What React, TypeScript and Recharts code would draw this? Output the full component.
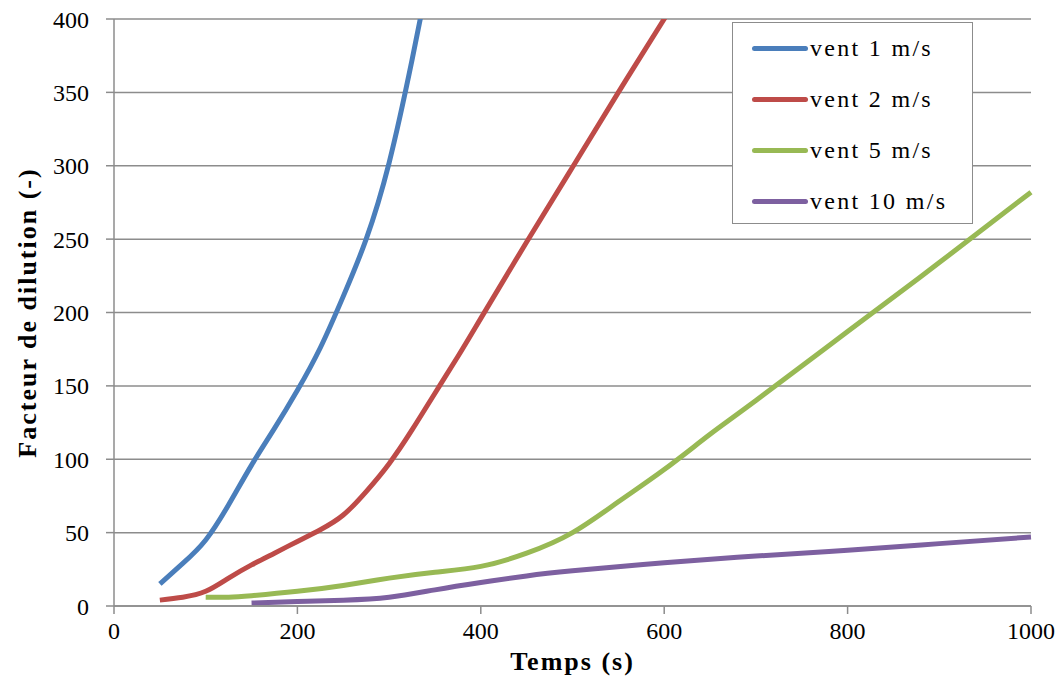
import { CartesianGrid, Line, LineChart, XAxis, YAxis } from 'recharts'

const vent1 = [
  { t: 50, v: 15 }, { t: 75, v: 29 }, { t: 100, v: 45 }, { t: 125, v: 69 },
  { t: 150, v: 96 }, { t: 175, v: 121 }, { t: 200, v: 147 }, { t: 225, v: 176 },
  { t: 250, v: 211 }, { t: 275, v: 250 }, { t: 300, v: 302 }, { t: 325, v: 372 },
  { t: 350, v: 450 },
]
const vent2 = [
  { t: 50, v: 4 }, { t: 75, v: 6 }, { t: 100, v: 10 }, { t: 125, v: 19 },
  { t: 150, v: 28 }, { t: 175, v: 36 }, { t: 200, v: 44 }, { t: 225, v: 52 },
  { t: 250, v: 62 }, { t: 275, v: 78 }, { t: 300, v: 97 }, { t: 325, v: 120 },
  { t: 350, v: 145 }, { t: 375, v: 170 }, { t: 400, v: 196 }, { t: 450, v: 248 },
  { t: 500, v: 299 }, { t: 550, v: 350 }, { t: 600, v: 400 }, { t: 625, v: 425 },
]
const vent5 = [
  { t: 100, v: 6 }, { t: 125, v: 6 }, { t: 150, v: 7 }, { t: 200, v: 10 },
  { t: 250, v: 14 }, { t: 300, v: 19 }, { t: 350, v: 23 }, { t: 400, v: 27 },
  { t: 450, v: 36 }, { t: 500, v: 50 }, { t: 550, v: 71 }, { t: 600, v: 93 },
  { t: 650, v: 117 }, { t: 700, v: 140 }, { t: 800, v: 187 }, { t: 900, v: 234 },
  { t: 1000, v: 282 },
]
const vent10 = [
  { t: 150, v: 2 }, { t: 200, v: 3 }, { t: 250, v: 4 }, { t: 300, v: 6 },
  { t: 350, v: 11 }, { t: 400, v: 16 }, { t: 450, v: 20.5 }, { t: 500, v: 24 },
  { t: 600, v: 29.5 }, { t: 700, v: 34 }, { t: 800, v: 38 }, { t: 900, v: 42.5 },
  { t: 1000, v: 47 },
]

const xTicks = [0, 200, 400, 600, 800, 1000]
const yTicks = [0, 50, 100, 150, 200, 250, 300, 350, 400]

const series = [
  { name: 'vent 1 m/s', data: vent1, color: '#4a7ebb' },
  { name: 'vent 2 m/s', data: vent2, color: '#be4b48' },
  { name: 'vent 5 m/s', data: vent5, color: '#98b954' },
  { name: 'vent 10 m/s', data: vent10, color: '#7d60a0' },
]

const font = "'Liberation Serif', 'Times New Roman', serif"

const LegendBox = () => (
  <div
    style={{
      position: 'absolute',
      left: 732,
      top: 22,
      border: '1.5px solid #8c8c8c',
      background: '#fff',
      width: 241,
      height: 202,
      boxSizing: 'border-box',
      fontFamily: font,
      fontSize: 24,
      color: '#000',
    }}
  >
    {series.map((s, i) => (
      <div
        key={s.name}
        style={{ position: 'absolute', left: 19, top: 10 + i * 51, display: 'flex', alignItems: 'center', height: 30 }}
      >
        <div style={{ width: 56, height: 5, borderRadius: 3, background: s.color, marginRight: 2 }} />
        <span style={{ letterSpacing: 2.3, whiteSpace: 'nowrap' }}>{s.name}</span>
      </div>
    ))}
  </div>
)

const YTitle = (props: any) => {
  const vb = props.viewBox
  const x = 36
  const y = vb.y + vb.height / 2
  return (
    <text
      x={x}
      y={y}
      transform={`rotate(-90 ${x} ${y})`}
      textAnchor="middle"
      fill="#000"
      fontSize={26}
      fontWeight={700}
      letterSpacing={2}
      fontFamily={font}
    >
      Facteur de dilution (-)
    </text>
  )
}

export default function App() {
  return (
    <div style={{ position: 'absolute', left: 0, top: 0, width: 1062, height: 682, background: '#fff', fontFamily: font }}>
      <LineChart width={1062} height={682} margin={{ top: 19, right: 31, bottom: 26, left: 0 }}>
        <CartesianGrid vertical={false} stroke="#8c8c8c" strokeWidth={1.5} />
        <XAxis
          type="number"
          dataKey="t"
          domain={[0, 1000]}
          ticks={xTicks}
          allowDuplicatedCategory={false}
          height={50}
          tickSize={8}
          tickMargin={8}
          stroke="#8c8c8c"
          strokeWidth={1.5}
          tick={{ fill: '#000', fontSize: 24, fontFamily: font }}
          label={{
            value: 'Temps (s)',
            position: 'insideBottom',
            offset: -14,
            fill: '#000',
            fontSize: 26,
            fontWeight: 700,
            letterSpacing: 2,
            fontFamily: font,
          }}
        />
        <YAxis
          type="number"
          dataKey="v"
          domain={[0, 400]}
          allowDataOverflow
          ticks={yTicks}
          width={114}
          tickSize={8}
          tickMargin={17}
          stroke="#8c8c8c"
          strokeWidth={1.5}
          tick={{ fill: '#000', fontSize: 24, fontFamily: font }}
          label={{ content: (p: any) => <YTitle {...p} /> }}
        />
        {series.map((s) => (
          <Line
            key={s.name}
            data={s.data}
            dataKey="v"
            name={s.name}
            type="natural"
            stroke={s.color}
            strokeWidth={5}
            dot={false}
            isAnimationActive={false}
          />
        ))}
      </LineChart>
      <LegendBox />
    </div>
  )
}
